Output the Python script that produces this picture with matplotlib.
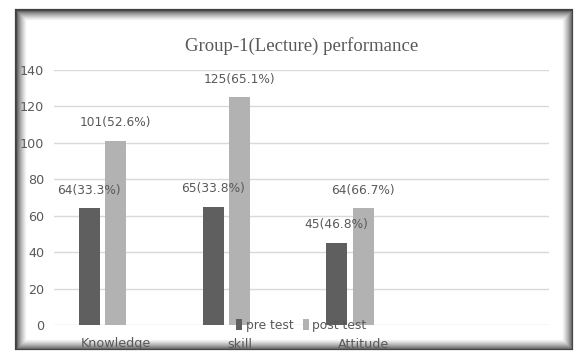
import numpy as np
import matplotlib.pyplot as plt
from matplotlib.patches import Rectangle

categories = ['Knowledge', 'skill', 'Attitude']
pre_test = [64, 65, 45]
post_test = [101, 125, 64]
pre_labels = ['64(33.3%)', '65(33.8%)', '45(46.8%)']
post_labels = ['101(52.6%)', '125(65.1%)', '64(66.7%)']

W, H = 576, 352
plt.rcParams['font.family'] = ['DejaVu Sans']
txt = '#595959'

fig = plt.figure(figsize=(W / 100, H / 100), dpi=100)
fig.patch.set_facecolor('white')

# frame with inner shadow
x0, y0, x1, y1 = 16, 10, 572, 349
n = 10
for i in range(n):
    g = 0.25 + 0.75 * (i / n) ** 0.7
    fig.add_artist(Rectangle(((x0 + i) / W, 1 - (y1 - i) / H),
                             (x1 - x0 - 2 * i) / W, (y1 - y0 - 2 * i) / H,
                             transform=fig.transFigure, fill=False, zorder=-5,
                             edgecolor=(g, g, g), linewidth=1.0 if i else 1.6))

ax = fig.add_axes([54 / W, 1 - 325 / H, (549 - 54) / W, (325 - 70) / H])
ax.set_facecolor('none')
x = np.arange(len(categories))
w = 0.17
ax.bar(x - 0.215, pre_test, w, color='#5f5f5f', label='pre test', zorder=3)
ax.bar(x, post_test, w, color='#b2b2b2', label='post test', zorder=3)

for xi, v, s in zip(x - 0.215, pre_test, pre_labels):
    ax.annotate(s, (xi, v), xytext=(0, 13), textcoords='offset points',
                ha='center', va='center', fontsize=8.8, color=txt)
for xi, v, s in zip(x, post_test, post_labels):
    ax.annotate(s, (xi, v), xytext=(0, 13), textcoords='offset points',
                ha='center', va='center', fontsize=8.8, color=txt)

ax.set_xlim(-0.5, 3.5)
ax.set_ylim(0, 140)
ax.set_yticks(range(0, 141, 20))
ax.set_xticks(x)
ax.set_xticklabels(categories)
ax.grid(axis='y', color='#d9d9d9', linewidth=1, zorder=0)
for s in ax.spines.values():
    s.set_visible(False)
ax.tick_params(length=0, colors=txt, labelsize=9.2)
ax.tick_params(axis='x', pad=9)
ax.tick_params(axis='y', pad=7)

ax.legend(loc='center', bbox_to_anchor=(0.5, 0.0), ncol=2, frameon=False,
          fontsize=8.8, labelcolor=txt, handlelength=0.45, handleheight=1.0,
          handletextpad=0.3, columnspacing=0.8, borderpad=0)

ax.set_title('Group-1(Lecture) performance', fontsize=13.5, color=txt,
             family='Liberation Serif', pad=14)

fig.savefig('out.png', dpi=100)
